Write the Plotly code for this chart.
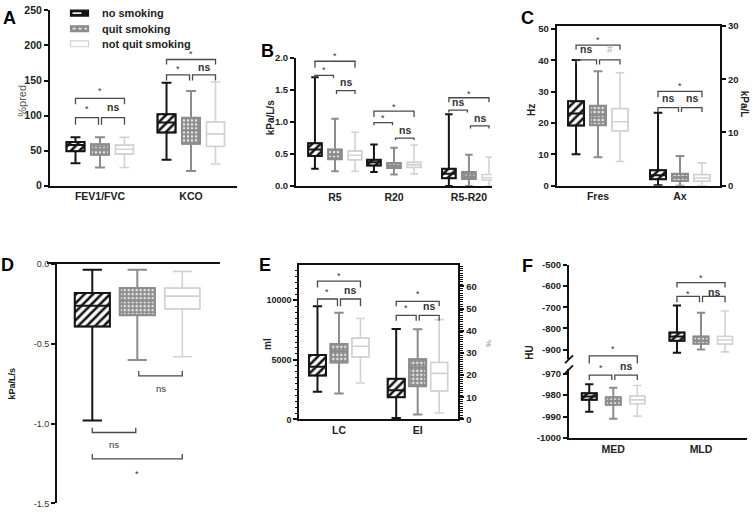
import plotly.graph_objects as go

W, H = 753, 517
GROUPS = ["no smoking", "quit smoking", "not quit smoking"]

# ---------------- data (rows: groups, cols: categories) ----------------
# Panel A  (%pred)
A_cats = ["FEV1/FVC", "KCO"]
A_min = [[32, 37], [26, 21], [26, 31]]
A_q1 = [[49, 76], [44, 60], [45, 56]]
A_med = [[58, 90], [52, 79], [52, 74]]
A_q3 = [[62.5, 102], [59, 97], [58, 91]]
A_max = [[69, 147], [69, 135], [69, 148]]
A_yticks = [0, 50, 100, 150, 200, 250]

# Panel B  (kPa/L/s)
B_cats = ["R5", "R20", "R5-R20"]
B_min = [[0.27, 0.22, 0.0], [0.23, 0.18, 0.0], [0.23, 0.19, 0.0]]
B_q1 = [[0.47, 0.32, 0.12], [0.42, 0.28, 0.11], [0.41, 0.29, 0.09]]
B_med = [[0.57, 0.37, 0.19], [0.49, 0.32, 0.15], [0.48, 0.33, 0.13]]
B_q3 = [[0.67, 0.41, 0.27], [0.57, 0.36, 0.22], [0.55, 0.37, 0.18]]
B_max = [[1.70, 0.65, 1.12], [1.05, 0.60, 0.49], [0.84, 0.64, 0.45]]
B_yticks = [0, 0.5, 1.0, 1.5, 2.0]

# Panel C  (Fres: Hz, Ax: kPa/L)
C_cats = ["Fres", "Ax"]
C_min = [[10, 0.1], [9.1, 0], [7.7, 0]]
C_q1 = [[19.2, 1.2], [19.3, 0.9], [17.5, 0.85]]
C_med = [[23, 1.95], [22.5, 1.65], [20.4, 1.45]]
C_q3 = [[26.9, 2.9], [25.5, 2.25], [24.6, 2.1]]
C_max = [[40.1, 13.7], [36.5, 5.6], [36, 4.3]]
C_yticks_left = [0, 10, 20, 30, 40, 50]
C_yticks_right = [0, 10, 20, 30]

# Panel D  (kPa/L/s)
D_cats = [""]
D_min = [[-0.98], [-0.60], [-0.58]]
D_q1 = [[-0.39], [-0.32], [-0.28]]
D_med = [[-0.26], [-0.23], [-0.20]]
D_q3 = [[-0.18], [-0.15], [-0.15]]
D_max = [[-0.035], [-0.035], [-0.045]]
D_yticks = [0, -0.5, -1.0, -1.5]
D_yticktext = ["0.0", "-0.5", "-1.0", "-1.5"]

# Panel E  (LC: ml, EI: %)
E_cats = ["LC", "EI"]
E_min = [[2320, 0.7], [2190, 2.2], [3060, 2.9]]
E_q1 = [[3690, 10], [4780, 15], [5245, 12.9]]
E_med = [[4430, 13.2], [5740, 23.5], [6150, 20.8]]
E_q3 = [[5410, 18.4], [6340, 27.2], [6830, 25.7]]
E_max = [[9510, 40.8], [8960, 40.7], [8470, 45]]
E_yticks_left = [0, 5000, 10000]
E_yticks_right = [0, 10, 20, 30, 40, 50, 60, 70]

# Panel F  (HU)
F_cats = ["MED", "MLD"]
F_min = [[-987.8, -915], [-991, -900], [-989.8, -911]]
F_q1 = [[-982.2, -858], [-984.5, -872], [-984, -874]]
F_med = [[-980.7, -838], [-982.6, -857], [-982.2, -855]]
F_q3 = [[-979.1, -820], [-981, -838], [-980.4, -838]]
F_max = [[-974.9, -692], [-976.6, -726], [-975.5, -718]]
F_yticks_upper = [-500, -600, -700, -800, -900]
F_yticks_lower = [-970, -980, -990, -1000]

# significance brackets: (category, group i, group j, line level, leg end, label level, text, axis)
A_sig = [(0, 0, 2, 124.5, 116, 138, "*", "L"), (0, 0, 1, 97, 87, 112, "*", "L"),
         (0, 1, 2, 97, 87, 112, "ns", "L"), (1, 0, 2, 180, 173, 190, "*", "L"),
         (1, 0, 1, 158, 150, 169, "*", "L"), (1, 1, 2, 158, 150, 169, "ns", "L")]
B_sig = [(0, 0, 2, 1.95, 1.85, 2.06, "*", "L"), (0, 0, 1, 1.73, 1.69, 1.85, "*", "L"),
         (0, 1, 2, 1.49, 1.44, 1.63, "ns", "L"), (1, 0, 2, 1.17, 1.08, 1.26, "*", "L"),
         (1, 0, 1, 0.99, 0.95, 1.09, "*", "L"), (1, 1, 2, 0.75, 0.72, 0.88, "ns", "L"),
         (2, 0, 2, 1.38, 1.31, 1.47, "*", "L"), (2, 0, 1, 1.185, 1.15, 1.31, "ns", "L"),
         (2, 1, 2, 0.94, 0.90, 1.07, "ns", "L")]
C_sig = [(0, 0, 2, 44.8, 43.3, 47.2, "*", "L"), (0, 0, 1, 40.1, 38.6, 43.5, "ns", "L"),
         (0, 1, 2, 40.1, 38.6, 43.5, "#", "L"), (1, 0, 2, 30.1, 28.2, 32.4, "*", "L"),
         (1, 0, 1, 24.9, 23.5, 28, "ns", "L"), (1, 1, 2, 24.9, 23.5, 28, "ns", "L")]
D_sig = [(0, 1, 2, -0.70, -0.67, -0.78, "ns", "L"), (0, 0, 1, -1.055, -1.025, -1.13, "ns", "L"),
         (0, 0, 2, -1.22, -1.19, -1.30, "*", "L")]
E_sig = [(0, 0, 2, 11611, 11065, 12240, "*", "L"), (0, 0, 1, 10108, 9507, 10873, "*", "L"),
         (0, 1, 2, 10108, 9507, 10873, "ns", "L"), (1, 0, 2, 9917, 9507, 10655, "*", "L"),
         (1, 0, 1, 8742, 8278, 9507, "*", "L"), (1, 1, 2, 8742, 8278, 9507, "ns", "L")]
F_sig = [(0, 0, 2, -930, -966, -889, "*", "U"), (0, 0, 1, -970.7, -973, -966.5, "*", "L"),
         (0, 1, 2, -970.7, -973, -966.5, "ns", "L"), (1, 0, 2, -584, -607, -551, "*", "U"),
         (1, 0, 1, -649, -677, -628, "*", "U"), (1, 1, 2, -649, -677, -628, "ns", "U")]

# ---------------- styles / layout geometry ----------------
COL = ["#151515", "#8c8c8c", "#d2d2d2"]
LW = [2.0, 2.0, 1.6]
PATTERNS = [
    dict(shape="/", fgcolor="#151515", bgcolor="white", size=6, solidity=0.42, fillmode="replace"),
    dict(shape=".", fgcolor="#e8e8e8", bgcolor="#8c8c8c", size=4, solidity=0.3, fillmode="replace"),
    None,
]
# legend key: swatch fill, swatch inner dash colour, dash style
KEY_FILL = ["#151515", "#8c8c8c", "white"]
KEY_DASH = [("white", "dash"), ("#e6e6e6", "dot"), None]
KEY_Y_PX = [7.3, 23.2, 38.7]
FONT = "Arial, 'Liberation Sans', Helvetica, sans-serif"

panels = [
    dict(key="A", cats=A_cats, st=(A_min, A_q1, A_med, A_q3, A_max), sig=A_sig,
         xid="x", yids={"L": "y"}, cat_axis=["L", "L"], pos=[0, 1],
         xdom=(50, 237), xr=(-0.549, 1.505),
         ydom={"L": (184, 4.5)}, yr={"L": (0, 250)}, off=0.269, bw=0.198),
    dict(key="B", cats=B_cats, st=(B_min, B_q1, B_med, B_q3, B_max), sig=B_sig,
         xid="x2", yids={"L": "y2"}, cat_axis=["L", "L", "L"], pos=[0, 1, 2.27],
         xdom=(296, 492), xr=(-0.661, 2.661),
         ydom={"L": (184.3, 53.3)}, yr={"L": (0, 2)}, off=0.34, bw=0.23),
    dict(key="C", cats=C_cats, st=(C_min, C_q1, C_med, C_q3, C_max), sig=C_sig,
         xid="x3", yids={"L": "y3", "R": "y4"}, cat_axis=["L", "R"], pos=[0, 1],
         xdom=(556.7, 720), xr=(-0.504, 1.488),
         ydom={"L": (184, 20.5), "R": (184, 20.5)}, yr={"L": (0, 50.9), "R": (0, 30)},
         off=0.268, bw=0.195),
    dict(key="D", cats=D_cats, st=(D_min, D_q1, D_med, D_q3, D_max), sig=D_sig,
         xid="x4", yids={"L": "y5"}, cat_axis=["L"], pos=[0],
         xdom=(46.7, 220), xr=(-2.013, 1.838),
         ydom={"L": (509.3, 264.3)}, yr={"L": (-1.5, 0)}, off=1.0, bw=0.78),
    dict(key="E", cats=E_cats, st=(E_min, E_q1, E_med, E_q3, E_max), sig=E_sig,
         xid="x5", yids={"L": "y6", "R": "y7"}, cat_axis=["L", "R"], pos=[0, 1],
         xdom=(299.3, 458.3), xr=(-0.504, 1.516),
         ydom={"L": (423.3, 265), "R": (423.3, 265)}, yr={"L": (0, 12975), "R": (0, 69.7)},
         off=0.273, bw=0.216),
    dict(key="F", cats=F_cats, st=(F_min, F_q1, F_med, F_q3, F_max), sig=F_sig,
         xid="x6", yids={"L": "y8", "U": "y9"}, cat_axis=["L", "U"], pos=[0, 1],
         xdom=(569, 746.7), xr=(-0.505, 1.521),
         ydom={"L": (442.3, 372), "U": (361.7, 265)}, yr={"L": (-1000, -968), "U": (-946, -500)},
         off=0.274, bw=0.171),
]


def px2x(p):
    return p / W


def px2y(p):
    return 1 - p / H


def lin(v, r, d):
    return d[0] + (v - r[0]) / (r[1] - r[0]) * (d[1] - d[0])


fig = go.Figure()

for P in panels:
    mn, q1, md, q3, mx = P["st"]
    for c, cat in enumerate(P["cats"]):
        ax = P["cat_axis"][c]
        yid = P["yids"][ax]
        for g in range(3):
            xpos = P["pos"][c] + (g - 1) * P["off"]
            mk = dict(color="white" if g != 1 else "#8c8c8c",
                      line=dict(color=COL[g], width=LW[g] * 0.75))
            if PATTERNS[g] is not None:
                mk["pattern"] = PATTERNS[g]
            fig.add_trace(go.Bar(
                x=[xpos], y=[q3[g][c] - q1[g][c]], base=[q1[g][c]], width=P["bw"],
                marker=mk, name=GROUPS[g], legendgroup=GROUPS[g], showlegend=False,
                xaxis=P["xid"], yaxis=yid, hoverinfo="skip"))
            fig.add_trace(go.Box(
                x=[xpos], q1=[q1[g][c]], median=[md[g][c]], q3=[q3[g][c]],
                lowerfence=[mn[g][c]], upperfence=[mx[g][c]],
                width=P["bw"], whiskerwidth=0.55, boxpoints=False,
                line=dict(color=COL[g], width=LW[g]), fillcolor="rgba(0,0,0,0)",
                name=GROUPS[g], legendgroup=GROUPS[g], showlegend=False,
                xaxis=P["xid"], yaxis=yid, hoverinfo="skip"))

# ---------------- axes ----------------
def xnum(xid):
    return "xaxis" if xid == "x" else "xaxis" + xid[1:]


AXLINE = dict(showline=True, linecolor="#111", linewidth=2, showgrid=False, zeroline=False,
              fixedrange=True, tickcolor="#111", tickwidth=1.5)
MINOR = dict(ticks="outside", ticklen=2.5, tickwidth=1, tickcolor="#111", tickmode="linear", tick0=0)

lay = {}
tfont = dict(family=FONT, size=10, color="#222", weight="bold")
for P in panels:
    xd = (px2x(P["xdom"][0]), px2x(P["xdom"][1]))
    first_y = list(P["yids"].values())[0]
    lay[xnum(P["xid"])] = dict(
        AXLINE, domain=list(xd), range=list(P["xr"]), anchor=first_y,
        tickvals=P["pos"], ticktext=P["cats"], ticks="", ticklen=0, ticklabelstandoff=0,
        tickfont=dict(tfont, size=10.5))

# A
lay["yaxis"] = dict(AXLINE, domain=[px2y(184), px2y(4.5)], range=[0, 250], anchor="x",
                    tickvals=A_yticks, ticks="outside", ticklen=4, tickfont=dict(tfont, size=10.5))
# B
lay["yaxis2"] = dict(AXLINE, domain=[px2y(184.3), px2y(53.3)], range=[0, 2], anchor="x2",
                     tickvals=B_yticks, tickformat=".1f", ticks="outside", ticklen=4,
                     tickfont=dict(tfont, size=9.5))
# C
lay["yaxis3"] = dict(AXLINE, domain=[px2y(184), px2y(20.5)], range=[0, 50.9], anchor="x3",
                     tickvals=C_yticks_left, ticks="outside", ticklen=4, tickfont=dict(tfont, size=9.5))
lay["yaxis4"] = dict(AXLINE, domain=[px2y(184), px2y(20.5)], range=[0, 30], anchor="x3",
                     overlaying="y3", side="right",
                     tickvals=C_yticks_right, ticks="outside", ticklen=4, tickfont=dict(tfont, size=9.5))
lay["xaxis3"]["mirror"] = True
# D
lay["xaxis4"].update(side="top", showticklabels=False, anchor="y5")
lay["yaxis5"] = dict(AXLINE, domain=[px2y(509.3), px2y(264.3)], range=[-1.5, 0], anchor="free",
                     position=px2x(56), tickvals=D_yticks, ticktext=D_yticktext, ticks="outside",
                     ticklen=4, tickfont=dict(family=FONT, size=9, color="#333"))
# E
lay["yaxis6"] = dict(AXLINE, domain=[px2y(423.3), px2y(265)], range=[0, 12975], anchor="x5",
                     tickvals=E_yticks_left, ticktext=[str(v) for v in E_yticks_left],
                     ticks="outside", ticklen=4, tickfont=dict(tfont, size=9),
                     minor=dict(MINOR, dtick=500))
lay["yaxis7"] = dict(AXLINE, domain=[px2y(423.3), px2y(265)], range=[0, 69.7], anchor="x5",
                     overlaying="y6", side="right",
                     tickvals=E_yticks_right, ticks="outside", ticklen=4,
                     tickfont=dict(tfont, size=9.5),
                     minor=dict(MINOR, dtick=1))
lay["xaxis5"]["mirror"] = True
# F
lay["yaxis8"] = dict(AXLINE, domain=[px2y(442.3), px2y(372)], range=[-1000, -968], anchor="x6",
                     tickvals=F_yticks_lower, ticktext=[str(v) for v in F_yticks_lower],
                     ticks="outside", ticklen=4, tickfont=dict(tfont, size=9.5))
lay["yaxis9"] = dict(AXLINE, domain=[px2y(361.7), px2y(265)], range=[-946, -500], anchor="x6",
                     tickvals=F_yticks_upper, ticktext=[str(v) for v in F_yticks_upper],
                     ticks="outside", ticklen=4, tickfont=dict(tfont, size=9.5))

# ---------------- brackets & labels ----------------
shapes = []
annots = []
for P in panels:
    xd = (px2x(P["xdom"][0]), px2x(P["xdom"][1]))
    gap = 1.5 / W
    for (c, i, j, yl, yg, ylab, txt, ax) in P["sig"]:
        yd = (px2y(P["ydom"][ax][0]), px2y(P["ydom"][ax][1]))
        xi = lin(P["pos"][c] + (i - 1) * P["off"], P["xr"], xd)
        xj = lin(P["pos"][c] + (j - 1) * P["off"], P["xr"], xd)
        if j - i == 1:
            if i == 1:
                xi += gap
            else:
                xj -= gap
        pl = lin(yl, P["yr"][ax], yd)
        pg = lin(yg, P["yr"][ax], yd)
        pt = lin(ylab, P["yr"][ax], yd)
        shapes.append(dict(type="path", xref="paper", yref="paper",
                           path=f"M{xi},{pg} L{xi},{pl} L{xj},{pl} L{xj},{pg}",
                           line=dict(color="#4a4a4a", width=1.3)))
        if txt == "*":
            f = dict(family=FONT, size=9, color="#333")
            ysh = -2
        elif txt == "#":
            f = dict(family=FONT, size=10, color="#aaaaaa")
            ysh = 0
        else:
            f = dict(family=FONT, size=10.5 if P["key"] != "D" else 9.5, color="#333",
                     weight="bold" if P["key"] != "D" else "normal")
            ysh = 0
        annots.append(dict(x=(xi + xj) / 2, y=pt, xref="paper", yref="paper", text=txt,
                           showarrow=False, font=f, xanchor="center", yanchor="middle", yshift=ysh))

# axis break marks for F
for py in (361.7, 372):
    shapes.append(dict(type="line", xref="paper", yref="paper",
                       x0=px2x(565), y0=px2y(py + 4), x1=px2x(573), y1=px2y(py - 4),
                       line=dict(color="#111", width=1.8)))

# group key (legend) in panel A
for g in range(3):
    yc = KEY_Y_PX[g]
    shapes.append(dict(type="rect", xref="paper", yref="paper",
                       x0=px2x(70.5), x1=px2x(88.5), y0=px2y(yc + 3), y1=px2y(yc - 3),
                       fillcolor=KEY_FILL[g], line=dict(color=COL[g], width=1.2)))
    if KEY_DASH[g] is not None:
        shapes.append(dict(type="line", xref="paper", yref="paper",
                           x0=px2x(72.5), x1=px2x(87), y0=px2y(yc), y1=px2y(yc),
                           line=dict(color=KEY_DASH[g][0], width=1.6, dash=KEY_DASH[g][1])))
    annots.append(dict(x=px2x(100), y=px2y(yc), xref="paper", yref="paper", text=GROUPS[g],
                       showarrow=False, xanchor="left", yanchor="middle",
                       font=dict(family=FONT, size=11, color="#222", weight="bold")))

# axis titles
titles = [
    ("%pred", 22, 97, -90, dict(family=FONT, size=11, color="#555")),
    ("kPa/L/s", 270, 115, -90, dict(family=FONT, size=10, color="#222", weight="bold")),
    ("Hz", 531.7, 106.7, -90, dict(family=FONT, size=10, color="#222", weight="bold")),
    ("kPa/L", 744, 100, 90, dict(family=FONT, size=10, color="#222", weight="bold")),
    ("kPa/L/s", 11.7, 386.7, -90, dict(family=FONT, size=9, color="#222", weight="bold")),
    ("ml", 268, 346, -90, dict(family=FONT, size=10, color="#222", weight="bold")),
    ("%", 488, 345, 90, dict(family=FONT, size=8, color="#888")),
    ("HU", 530, 355, -90, dict(family=FONT, size=10, color="#222", weight="bold")),
]
for t, x, y, ang, f in titles:
    annots.append(dict(x=px2x(x), y=px2y(y), xref="paper", yref="paper", text=t, textangle=ang,
                       showarrow=False, font=f, xanchor="center", yanchor="middle"))

# panel letters
letters = [("A", 9, 12.5), ("B", 267.5, 46.5), ("C", 527, 12.5), ("D", 7.5, 265),
           ("E", 265, 265), ("F", 527.5, 266)]
for t, x, y in letters:
    annots.append(dict(x=px2x(x), y=px2y(y), xref="paper", yref="paper", text=t, showarrow=False,
                       font=dict(family=FONT, size=18, color="#000", weight="bold"),
                       xanchor="center", yanchor="middle"))

fig.update_layout(
    width=W, height=H, margin=dict(l=0, r=0, t=0, b=0),
    paper_bgcolor="white", plot_bgcolor="rgba(0,0,0,0)",
    barmode="overlay", boxmode="overlay",
    font=dict(family=FONT, color="#222"),
    showlegend=False,
    shapes=shapes, annotations=annots,
    **lay,
)

fig.write_html("out.html", config={"displayModeBar": False},
               post_script="document.body.style.margin='0';")
